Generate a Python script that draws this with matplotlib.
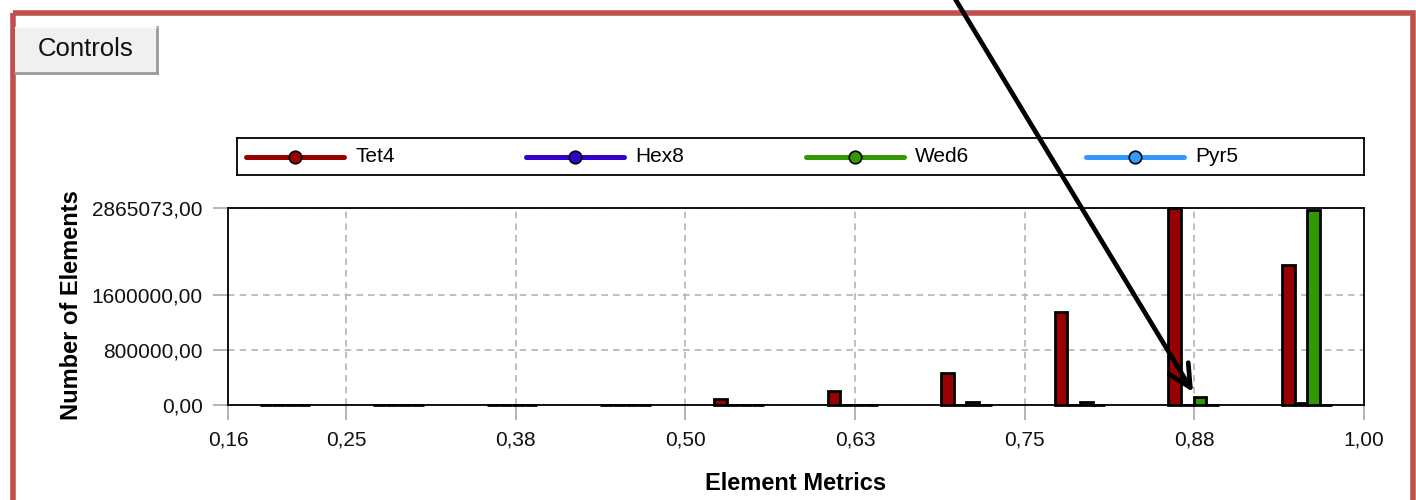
import matplotlib
matplotlib.use('Agg')
import matplotlib.pyplot as plt
from matplotlib.patches import Rectangle
import numpy as np

plt.rcParams['font.family'] = ['Liberation Sans', 'DejaVu Sans']

# element quality histogram, 10 bins between the min and max metric
metric_min = 0.163
metric_max = 1.0
series = ['Tet4', 'Hex8', 'Wed6', 'Pyr5']
colors = ['#990000', '#3300CC', '#339900', '#3399FF']
tet4 = [0, 0, 0, 0, 88000, 210000, 470000, 1355000, 2865073, 2030000]
hex8 = [0, 0, 0, 0, 0, 0, 0, 0, 0, 30000]
wed6 = [0, 0, 0, 0, 0, 0, 45000, 50000, 115000, 2840000]
pyr5 = [0, 0, 0, 0, 0, 0, 0, 0, 0, 0]
counts = [tet4, hex8, wed6, pyr5]

y_ticks = [0, 800000, 1600000, 2865073]
x_ticks = [0.163, 0.25, 0.375, 0.5, 0.625, 0.75, 0.875, 1.0]
x_labels = ['0,16', '0,25', '0,38', '0,50', '0,63', '0,75', '0,88', '1,00']

W, H = 1416, 500
fig = plt.figure(figsize=(W / 100, H / 100), dpi=100)

ax = fig.add_axes([228 / W, 1 - 405 / H, (1364 - 228) / W, (405 - 208) / H])
edges = np.linspace(metric_min, metric_max, len(tet4) + 1)
centres = (edges[:-1] + edges[1:]) / 2
bar_w = 0.0093
for k, (name, vals, c) in enumerate(zip(series, counts, colors)):
    ax.bar(centres + (k - 1.5) * bar_w, vals, width=bar_w, color=c,
           edgecolor='black', linewidth=2.0, zorder=3, clip_on=False)

ax.set_xlim(metric_min, metric_max)
ax.set_ylim(0, max(y_ticks))
ax.set_xticks(x_ticks)
ax.set_xticklabels(x_labels)
ax.set_yticks(y_ticks)
ax.set_yticklabels(['{:.2f}'.format(v).replace('.', ',') for v in y_ticks])
ax.tick_params(direction='out', length=11, width=1.2, color='#a8a8a8',
               labelsize=15, labelcolor='#111111', pad=7)
ax.grid(True, color='#b4b4b4', linestyle=(0, (4, 3)), linewidth=1.2, zorder=0)
for s in ax.spines.values():
    s.set_color('black')
    s.set_linewidth(1.3)

fig.text(71 / W, 1 - 305 / H, 'Number of Elements', rotation=90,
         fontsize=17, fontweight='bold', ha='center', va='center')
fig.text(796 / W, 1 - 484 / H, 'Element Metrics',
         fontsize=17, fontweight='bold', ha='center', va='center')

# legend strip above the plot
lax = fig.add_axes([237 / W, 1 - 175 / H, (1364 - 237) / W, 37 / H])
lax.set_xlim(0, 1127)
lax.set_ylim(0, 37)
lax.set_xticks([])
lax.set_yticks([])
for s in lax.spines.values():
    s.set_color('black')
    s.set_linewidth(1.3)
for i, (name, c) in enumerate(zip(series, colors)):
    x0 = 9 + i * 280
    lax.plot([x0, x0 + 98], [18.5, 18.5], color=c, lw=3.6, solid_capstyle='round')
    lax.plot(x0 + 49, 18.5, 'o', ms=9, mfc=c, mec='black', mew=1.2)
    lax.text(x0 + 109, 18.5, name, va='center', ha='left', fontsize=15)

# window frame, button and pointer on top
ov = fig.add_axes([0, 0, 1, 1], zorder=10)
ov.set_xlim(0, W)
ov.set_ylim(H, 0)
ov.axis('off')
ov.add_patch(Rectangle((12.5, 12.5), 1400.5, 600, fill=False,
                       ec='#C0504D', lw=4))
ov.add_patch(Rectangle((15, 27), 142, 45, fc='#F0F0F0', ec='none'))
ov.plot([156.5, 156.5], [27, 73], color='#9a9a9a', lw=2)
ov.plot([15, 157], [72.5, 72.5], color='#9a9a9a', lw=2)
ov.plot([15, 156], [27, 27], color='#fafafa', lw=1)
ov.text(86, 49, 'Controls', ha='center', va='center', fontsize=18.5,
        color='#111111')
ov.annotate('', xy=(1193, 392), xytext=(954, -3),
            arrowprops=dict(arrowstyle='->', lw=3.4, color='black',
                            mutation_scale=40, shrinkA=0, shrinkB=0))

fig.savefig('out.png', dpi=100)
